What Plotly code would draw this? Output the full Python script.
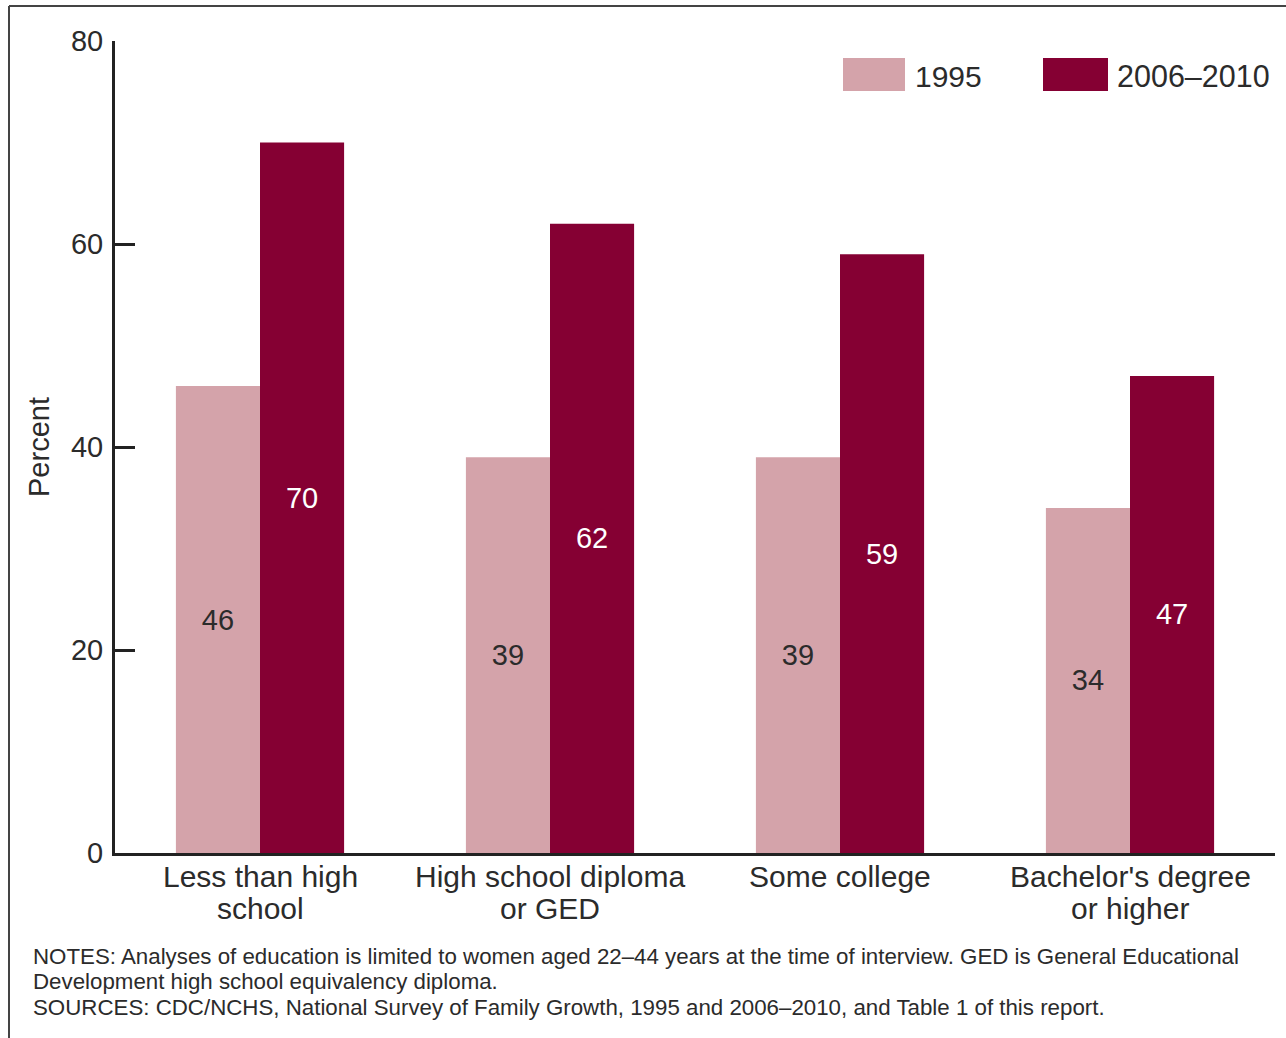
import plotly.graph_objects as go

# Education categories (two-line labels) and percentages for the two survey periods
category_lines = [["Less than high", "school"],
                  ["High school diploma", "or GED"],
                  ["Some college"],
                  ["Bachelor's degree", "or higher"]]
categories = [" ".join(lines) for lines in category_lines]
pct_1995 = [46, 39, 39, 34]
pct_2006_2010 = [70, 62, 59, 47]
series_names = ["1995", "2006–2010"]
y_ticks = [0, 20, 40, 60, 80]
note_lines = [
    "NOTES: Analyses of education is limited to women aged 22–44 years at the time of "
    "interview. GED is General Educational",
    "Development high school equivalency diploma.",
    "SOURCES: CDC/NCHS, National Survey of Family Growth, 1995 and 2006–2010, "
    "and Table 1 of this report.",
]

LIGHT = "#D4A3AA"
DARK = "#850033"
INK = "#2b2b2b"
FONT = "Liberation Sans, Arial, sans-serif"

W, H = 1286, 1038
ML, MR, MT, MB = 115, 11, 41, 185
PW, PH = W - ML - MR, H - MT - MB


def px_x(x):
    return (x - ML) / PW


def px_y(y):
    return (H - MB - y) / PH


fig = go.Figure()
fig.add_trace(go.Bar(
    name=series_names[0], x=categories, y=pct_1995,
    marker=dict(color=LIGHT, line=dict(width=0)),
    text=[str(v) for v in pct_1995], textposition="inside",
    insidetextanchor="middle", textangle=0,
    textfont=dict(family=FONT, size=29, color=INK),
    showlegend=False,
))
fig.add_trace(go.Bar(
    name=series_names[1], x=categories, y=pct_2006_2010,
    marker=dict(color=DARK, line=dict(width=0)),
    text=[str(v) for v in pct_2006_2010], textposition="inside",
    insidetextanchor="middle", textangle=0,
    textfont=dict(family=FONT, size=29, color="white"),
    showlegend=False,
))

shapes = [
    # outer frame (left and top edges)
    dict(type="line", xref="paper", yref="paper",
         x0=px_x(9), x1=px_x(9), y0=px_y(6), y1=px_y(1060),
         line=dict(color="#444", width=2)),
    dict(type="line", xref="paper", yref="paper",
         x0=px_x(9), x1=px_x(1300), y0=px_y(6), y1=px_y(6),
         line=dict(color="#444", width=2)),
    # legend swatches
    dict(type="rect", xref="paper", yref="paper",
         x0=px_x(843), x1=px_x(905), y0=px_y(91), y1=px_y(58),
         fillcolor=LIGHT, line=dict(width=0)),
    dict(type="rect", xref="paper", yref="paper",
         x0=px_x(1043), x1=px_x(1108), y0=px_y(91), y1=px_y(58),
         fillcolor=DARK, line=dict(width=0)),
]

annotations = [
    dict(xref="paper", yref="paper", x=px_x(913), y=px_y(76),
         xanchor="left", yanchor="middle", showarrow=False,
         text=series_names[0], font=dict(family=FONT, size=30, color=INK)),
    dict(xref="paper", yref="paper", x=px_x(1115), y=px_y(76),
         xanchor="left", yanchor="middle", showarrow=False,
         text=series_names[1], font=dict(family=FONT, size=30.5, color=INK)),
]

# category labels under the axis, one annotation per line
for cat, lines in zip(categories, category_lines):
    for i, line in enumerate(lines):
        annotations.append(dict(
            xref="x", yref="paper", x=cat, y=px_y(876 + 33 * i),
            xanchor="center", yanchor="middle", showarrow=False,
            text=line, font=dict(family=FONT, size=30, color=INK)))

# notes and sources
for i, line in enumerate(note_lines):
    annotations.append(dict(
        xref="paper", yref="paper", x=px_x(31), y=px_y(956 + 25.5 * i),
        xanchor="left", yanchor="middle", showarrow=False,
        text=line, font=dict(family=FONT, size=22.3, color=INK)))

fig.update_layout(
    width=W, height=H,
    margin=dict(l=ML, r=MR, t=MT, b=MB, autoexpand=False),
    paper_bgcolor="white", plot_bgcolor="white",
    barmode="group", bargap=0.42, bargroupgap=0,
    font=dict(family=FONT, color=INK),
    shapes=shapes, annotations=annotations,
    xaxis=dict(
        showline=True, linecolor="#222", linewidth=3,
        ticks="", showgrid=False, zeroline=False,
        showticklabels=False,
    ),
    yaxis=dict(
        range=[0, 80], tickvals=y_ticks,
        showline=True, linecolor="#222", linewidth=3,
        ticks="inside", ticklen=20, tickwidth=3, tickcolor="#222",
        showgrid=False, zeroline=False,
        tickfont=dict(family=FONT, size=29, color=INK),
        ticklabelstandoff=3,
        title=dict(text="Percent", standoff=13,
                   font=dict(family=FONT, size=29, color=INK)),
    ),
)

fig.write_html("out.html")
